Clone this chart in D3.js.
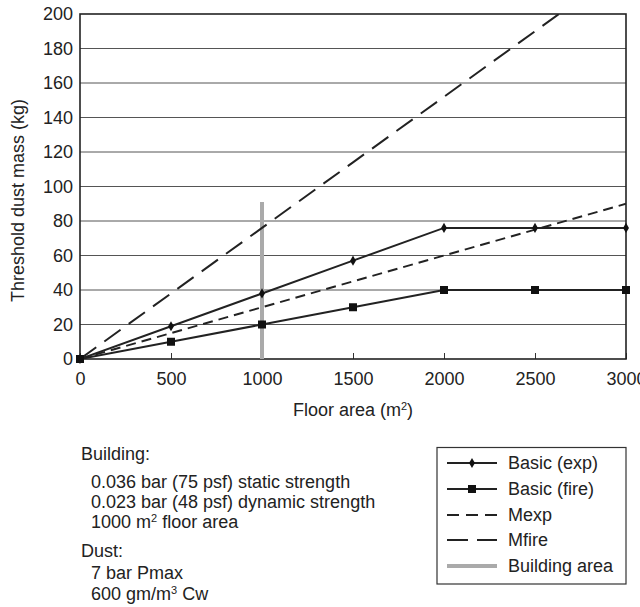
<!DOCTYPE html>
<html>
<head>
<meta charset="utf-8">
<script src="https://cdn.jsdelivr.net/npm/d3@7"></script>
<style>
  body { margin: 0; background: #fff; }
  text { font-family: "Liberation Sans", Arial, sans-serif; fill: #222; }
</style>
</head>
<body>
<div id="chart"></div>
<script>
// data
const floorArea = [0, 500, 1000, 1500, 2000, 2500, 3000];
const basicExp = [0, 19, 38, 57, 76, 76, 76];
const basicFire = [0, 10, 20, 30, 40, 40, 40];
const mExp = [0, 15, 30, 45, 60, 75, 90];
const mFire = [0, 38, 76, 114, 152, 190, 228];
const buildingArea = [[1000, 0], [1000, 91]];
const yTicks = [0, 20, 40, 60, 80, 100, 120, 140, 160, 180, 200];
const xTicks = [0, 500, 1000, 1500, 2000, 2500, 3000];
const notes = [
  { t: "Building:", indent: 0 },
  { t: "0.036 bar (75 psf) static strength", indent: 1 },
  { t: "0.023 bar (48 psf) dynamic strength", indent: 1 },
  { t: "1000 m|2| floor area", indent: 1 },
  { t: "Dust:", indent: 0 },
  { t: "7 bar Pmax", indent: 1 },
  { t: "600 gm/m|3| Cw", indent: 1 }
];
const noteY = [460, 488, 508, 528, 557, 579, 600];
const legendNames = ["Basic (exp)", "Basic (fire)", "Mexp", "Mfire", "Building area"];

const W = 640, H = 607;
const margin = { top: 14, right: 14, bottom: 248, left: 80 },
  width = W - margin.left - margin.right,
  height = H - margin.top - margin.bottom;

const svgRoot = d3.select("#chart").append("svg")
  .attr("width", W).attr("height", H);

const svg = svgRoot.append("g")
  .attr("transform", `translate(${margin.left}, ${margin.top})`);

const x = d3.scaleLinear().domain([0, 3000]).range([0, width]);
const y = d3.scaleLinear().domain([0, 200]).range([height, 0]);

svgRoot.append("defs").append("clipPath").attr("id", "plotclip")
  .append("rect").attr("x", 0).attr("y", 0)
  .attr("width", width).attr("height", height);

// horizontal grid
svg.append("g")
  .selectAll("line")
  .data(yTicks.filter(d => d > 0 && d < 200))
  .join("line")
  .attr("x1", 0).attr("x2", width)
  .attr("y1", d => y(d)).attr("y2", d => y(d))
  .attr("stroke", "#555").attr("stroke-width", 1);

// y axis labels
const yAxis = svg.append("g")
  .call(d3.axisLeft(y).tickValues(yTicks).tickSize(0).tickPadding(7));
yAxis.select(".domain").remove();
yAxis.selectAll("text")
  .style("font-size", "18px")
  .style("font-family", "Liberation Sans, Arial, sans-serif")
  .attr("fill", "#222");

// x axis
const xAxis = svg.append("g")
  .attr("transform", `translate(0, ${height})`)
  .call(d3.axisBottom(x).tickValues(xTicks).tickFormat(d3.format("d"))
    .tickSize(-6).tickPadding(13));
xAxis.select(".domain").remove();
xAxis.selectAll("line").attr("stroke", "#333");
xAxis.selectAll("text")
  .style("font-size", "18px")
  .style("font-family", "Liberation Sans, Arial, sans-serif")
  .attr("fill", "#222");

// frame
svg.append("rect")
  .attr("x", 0).attr("y", 0).attr("width", width).attr("height", height)
  .attr("fill", "none").attr("stroke", "#222").attr("stroke-width", 1.6);

const line = d3.line()
  .x(d => x(d[0]))
  .y(d => y(d[1]));

const plot = svg.append("g").attr("clip-path", "url(#plotclip)");

// building area
plot.append("path")
  .datum(buildingArea)
  .attr("d", line)
  .attr("stroke", "#aaa").attr("stroke-width", 4).attr("fill", "none");

const pts = vals => floorArea.map((a, i) => [a, vals[i]]);

plot.append("path").datum(pts(mFire)).attr("d", line)
  .attr("fill", "none").attr("stroke", "#222").attr("stroke-width", 2)
  .attr("stroke-dasharray", "20,10");

plot.append("path").datum(pts(mExp)).attr("d", line)
  .attr("fill", "none").attr("stroke", "#222").attr("stroke-width", 2)
  .attr("stroke-dasharray", "10,6");

plot.append("path").datum(pts(basicFire)).attr("d", line)
  .attr("fill", "none").attr("stroke", "#222").attr("stroke-width", 2);

plot.append("path").datum(pts(basicExp)).attr("d", line)
  .attr("fill", "none").attr("stroke", "#222").attr("stroke-width", 2);

// markers
svg.append("g").selectAll("rect")
  .data(pts(basicFire))
  .join("rect")
  .attr("x", d => x(d[0]) - 4).attr("y", d => y(d[1]) - 4)
  .attr("width", 8).attr("height", 8)
  .attr("fill", "#111");

const diamond = d3.symbol().type(d3.symbolDiamond).size(30);
svg.append("g").selectAll("path")
  .data(pts(basicExp))
  .join("path")
  .attr("transform", d => `translate(${x(d[0])}, ${y(d[1])})`)
  .attr("d", diamond)
  .attr("fill", "#111");

// axis titles
svgRoot.append("text")
  .attr("x", margin.left + width / 2).attr("y", 416)
  .attr("text-anchor", "middle")
  .style("font-size", "18px")
  .html('Floor area (m<tspan dy="-6" font-size="11px">2</tspan><tspan dy="6">)</tspan>');

svgRoot.append("text")
  .attr("transform", `translate(24, ${margin.top + height / 2 + 14}) rotate(-90)`)
  .attr("text-anchor", "middle")
  .style("font-size", "18px")
  .text("Threshold dust mass (kg)");

// notes block
const noteG = svgRoot.append("g");
notes.forEach((n, i) => {
  const parts = n.t.split("|");
  const t = noteG.append("text")
    .attr("x", n.indent ? 91 : 81).attr("y", noteY[i])
    .style("font-size", "18px");
  t.append("tspan").text(parts[0]);
  if (parts.length > 1) {
    t.append("tspan").attr("dy", -6).style("font-size", "11px").text(parts[1]);
    t.append("tspan").attr("dy", 6).text(parts[2]);
  }
});

// legend
const lg = svgRoot.append("g");
lg.append("rect")
  .attr("x", 437).attr("y", 447.5).attr("width", 189).attr("height", 136.5)
  .attr("fill", "#fff").attr("stroke", "#333").attr("stroke-width", 1.2);

const rowY = [463, 489, 515, 540, 566];
const styles = [
  { dash: null, c: "#222", w: 2, m: "diamond" },
  { dash: null, c: "#222", w: 2, m: "square" },
  { dash: "12,7", c: "#222", w: 2, m: null },
  { dash: "21,9", c: "#222", w: 2, m: null },
  { dash: null, c: "#aaa", w: 4, m: null }
];
legendNames.forEach((name, i) => {
  const s = styles[i];
  lg.append("line")
    .attr("x1", 447).attr("x2", 497)
    .attr("y1", rowY[i]).attr("y2", rowY[i])
    .attr("stroke", s.c).attr("stroke-width", s.w)
    .attr("stroke-dasharray", s.dash);
  if (s.m === "diamond") {
    lg.append("path").attr("transform", `translate(472, ${rowY[i]})`)
      .attr("d", diamond).attr("fill", "#111");
  } else if (s.m === "square") {
    lg.append("rect").attr("x", 468).attr("y", rowY[i] - 4)
      .attr("width", 8).attr("height", 8).attr("fill", "#111");
  }
  lg.append("text")
    .attr("x", 508).attr("y", rowY[i] + 6)
    .style("font-size", "18px")
    .text(name);
});
</script>
</body>
</html>
